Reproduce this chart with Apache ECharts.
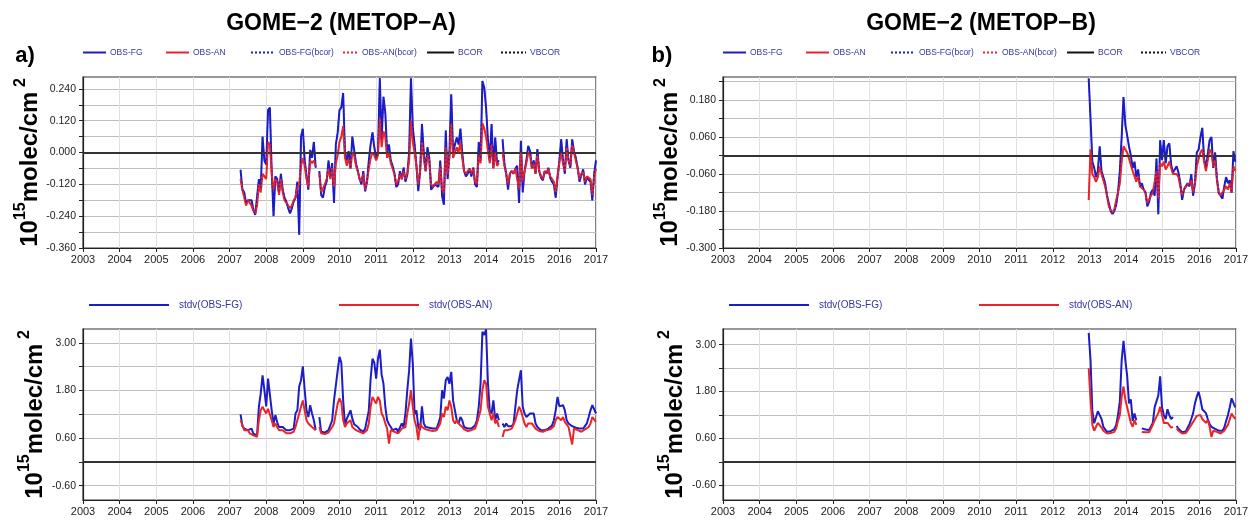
<!DOCTYPE html>
<html>
<head>
<meta charset="utf-8">
<title>GOME-2 METOP-A / METOP-B</title>
<script src="https://cdn.jsdelivr.net/npm/echarts@6/dist/echarts.min.js"></script>
<style>
    html, body { margin: 0; padding: 0; background: #fff; }
    #chart { width: 1256px; height: 524px; }
</style>
</head>
<body>
<div id="chart"></div>
<script>
// sampling of the time series (decimal years)
var startA = 2007.30;
var startB = 2012.98;
var step = 0.05;

var years = [2003, 2004, 2005, 2006, 2007, 2008, 2009, 2010, 2011, 2012, 2013, 2014, 2015, 2016, 2017];

// tick positions / labelled ticks
var biasTicksA = [-0.36, -0.30, -0.24, -0.18, -0.12, -0.06, 0, 0.06, 0.12, 0.18, 0.24];
var biasLabelsA = [-0.36, -0.24, -0.12, 0, 0.12, 0.24];
var biasTicksB = [-0.30, -0.24, -0.18, -0.12, -0.06, 0, 0.06, 0.12, 0.18, 0.24];
var biasLabelsB = [-0.30, -0.18, -0.06, 0.06, 0.18];
var stdTicks = [-0.6, 0, 0.6, 1.2, 1.8, 2.4, 3.0];
var stdLabels = [-0.6, 0.6, 1.8, 3.0];

// METOP-A mean departures
var fgBiasA = [
    -0.065, -0.14, -0.15, -0.19, -0.18, -0.185, -0.18, -0.215, -0.235, -0.23, -0.10, -0.14, 0.06, -0.03,
    -0.045, 0.16, 0.17, -0.07, -0.24, -0.09, -0.10, -0.15, -0.08, -0.14, -0.17, -0.185, -0.21, -0.23, -0.21, -0.185, -0.17, -0.11, -0.31, 0.06,
    0.09, -0.03, -0.085, -0.14, 0.01, -0.02, 0.04, -0.057, null, -0.07, -0.16, -0.17, -0.13, -0.11, -0.03, -0.095, -0.04, -0.19, 0.03, 0.075,
    0.16, 0.17, 0.225, 0.0, -0.03, 0.005, -0.06, 0.06, 0.01, -0.04, -0.07, -0.10, -0.12, -0.07, -0.146, -0.11, -0.03, 0.03, 0.076, 0.02,
    -0.02, 0.0, 0.28, 0.05, 0.21, 0.15, 0.0, 0.03, -0.03, -0.05, -0.08, -0.13, -0.12, -0.07, -0.10, -0.057, -0.11, -0.085, 0.0, 0.28,
    0.095, 0.03, -0.05, -0.146, -0.07, 0.108, 0.0, -0.07, 0.02, -0.02, -0.14, -0.135, -0.12, -0.115, -0.13, -0.03, -0.165, -0.197, 0.083, -0.1,
    0.0, 0.22, 0.0, 0.03, 0.057, 0.03, 0.09, 0.0, -0.07, -0.09, -0.08, -0.06, -0.09, -0.057, -0.12, -0.13, 0.04, -0.03, 0.27, 0.245,
    0.17, 0.05, -0.03, 0.108, -0.057, 0.057, -0.04, -0.03, null, 0.05, -0.04, -0.08, -0.14, -0.08, -0.07, -0.08, -0.06, -0.05, -0.19, 0.044,
    -0.15, -0.07, -0.03, 0.025, 0.006, -0.057, -0.03, -0.08, 0.013, -0.07, -0.095, -0.105, -0.07, -0.08, -0.057, -0.095, -0.11, -0.12, -0.17, -0.095,
    -0.03, 0.05, -0.03, -0.08, 0.05, -0.03, -0.057, 0.05, 0.005, -0.02, -0.057, -0.11, -0.085, -0.063, -0.12, -0.095, -0.088, -0.11, -0.18, -0.08,
    -0.03
];
var anBiasA = [
    -0.10, -0.14, -0.17, -0.20, -0.18, -0.19, -0.20, -0.22, -0.23, -0.20, -0.12, -0.15, -0.08, -0.09,
    -0.10, 0.04, 0.03, -0.08, -0.14, -0.10, -0.11, -0.16, -0.10, -0.15, -0.18, -0.19, -0.20, -0.21, -0.20, -0.18, -0.17, -0.13, -0.12, -0.05,
    -0.02, -0.05, -0.10, -0.13, -0.03, -0.04, -0.03, -0.05, null, -0.08, -0.15, -0.15, -0.12, -0.10, -0.06, -0.10, -0.06, -0.13, -0.04, -0.01,
    0.04, 0.06, 0.10, -0.02, -0.05, -0.02, -0.06, 0.0, -0.01, -0.05, -0.07, -0.10, -0.11, -0.08, -0.14, -0.11, -0.06, -0.02, 0.0, -0.01,
    -0.03, -0.01, 0.13, 0.02, 0.08, 0.06, -0.02, 0.0, -0.04, -0.06, -0.08, -0.12, -0.11, -0.08, -0.10, -0.07, -0.10, -0.08, -0.03, 0.12,
    0.04, 0.0, -0.05, -0.12, -0.07, 0.04, -0.02, -0.07, -0.01, -0.03, -0.12, -0.13, -0.12, -0.11, -0.12, -0.05, -0.14, -0.15, 0.02, -0.08,
    -0.02, 0.11, -0.02, 0.0, 0.02, 0.0, 0.04, -0.02, -0.07, -0.08, -0.08, -0.06, -0.08, -0.06, -0.11, -0.12, -0.01, -0.04, 0.11, 0.09,
    0.06, 0.01, -0.04, 0.03, -0.06, 0.0, -0.05, -0.04, null, 0.0, -0.05, -0.08, -0.12, -0.08, -0.07, -0.08, -0.06, -0.06, -0.14, 0.0,
    -0.11, -0.07, -0.04, 0.0, -0.01, -0.06, -0.04, -0.08, -0.01, -0.07, -0.09, -0.10, -0.07, -0.08, -0.06, -0.09, -0.10, -0.11, -0.15, -0.09,
    -0.04, 0.0, -0.04, -0.07, 0.02, -0.03, -0.05, 0.03, 0.0, -0.03, -0.06, -0.10, -0.08, -0.07, -0.11, -0.09, -0.09, -0.10, -0.16, -0.09,
    -0.06
];

// METOP-A standard deviations
var fgStdA = [
    1.2, 0.9, 0.84, 0.88, 0.8, 0.76, 0.84, 0.71, 0.76, 0.67, 1.39, 1.72, 2.18, 1.81,
    1.4, 2.1, 2.14, 1.3, 0.97, 1.18, 1.0, 0.88, 0.84, 0.88, 0.84, 0.8, 0.76, 0.8, 0.8, 0.84, 1.22, 1.3, 1.9, 2.06,
    2.41, 1.81, 1.3, 1.13, 1.43, 1.22, 1.05, 0.8, null, 1.13, 0.76, 0.71, 0.74, 0.76, 0.8, 0.8, 1.05, 1.55, 1.5, 2.3,
    2.65, 2.5, 1.55, 0.92, 1.09, 1.05, 1.3, 1.09, 0.95, 0.9, 0.88, 0.82, 0.8, 0.76, 0.84, 0.88, 1.3, 2.1, 2.6, 2.5,
    2.1, 2.6, 2.83, 2.2, 1.97, 1.39, 1.05, 0.95, 0.88, 0.8, 0.82, 0.84, 0.76, 0.8, 0.97, 0.88, 1.22, 1.81, 2.3, 3.11,
    2.48, 1.2, 1.3, 0.88, 0.8, 1.4, 0.97, 0.88, 0.88, 0.86, 0.84, 0.84, 0.84, 0.84, 0.97, 1.13, 1.81, 1.6, 2.06, 2.14,
    1.97, 2.27, 1.55, 1.3, 1.05, 0.97, 1.13, 1.05, 0.88, 0.86, 0.84, 0.84, 0.84, 0.88, 0.92, 1.05, 1.39, 1.97, 3.28, 3.2,
    3.34, 2.0, 1.3, 1.22, 1.55, 1.05, 1.22, 1.05, null, 0.97, 0.88, 0.97, 0.9, 0.88, 0.9, 0.97, 1.39, 1.81, 2.06, 2.31,
    1.39, 1.22, 1.13, 1.13, 1.22, 1.18, 1.22, 0.97, 0.88, 0.84, 0.8, 0.8, 0.8, 0.84, 0.84, 0.88, 0.92, 1.05, 1.3, 1.64,
    1.4, 1.39, 1.43, 1.3, 1.05, 0.97, 0.92, 0.9, 0.88, 0.86, 0.84, 0.84, 0.8, 0.84, 0.88, 0.97, 1.13, 1.3, 1.43, 1.39,
    1.22
];
var anStdA = [
    1.05, 0.93, 0.8, 0.76, 0.8, 0.72, 0.76, 0.67, 0.72, 0.63, 1.05, 1.3, 1.39, 1.3,
    1.22, 1.34, 1.39, 1.05, 0.88, 0.97, 0.88, 0.8, 0.76, 0.8, 0.76, 0.72, 0.7, 0.72, 0.72, 0.76, 0.88, 0.88, 1.22, 1.39,
    1.55, 1.3, 1.05, 0.97, 0.97, 0.88, 0.84, 0.8, null, 0.88, 0.72, 0.68, 0.7, 0.72, 0.74, 0.76, 0.88, 0.97, 1.22, 1.47,
    1.6, 1.5, 1.05, 0.88, 0.97, 0.97, 1.05, 0.88, 0.84, 0.8, 0.78, 0.76, 0.72, 0.72, 0.76, 0.8, 0.97, 1.39, 1.64, 1.55,
    1.47, 1.64, 1.55, 1.22, 1.13, 0.97, 0.84, 0.46, 0.8, 0.76, 0.76, 0.78, 0.72, 0.76, 0.84, 0.8, 0.88, 1.22, 1.47, 1.81,
    1.39, 1.05, 0.88, 0.55, 0.97, 0.88, 0.84, 0.82, 0.8, 0.8, 0.78, 0.78, 0.8, 0.8, 0.84, 0.97, 1.22, 1.13, 1.39, 1.3,
    1.55, 1.39, 1.05, 0.97, 1.05, 0.97, 0.92, 0.88, 0.82, 0.8, 0.78, 0.8, 0.8, 0.82, 0.84, 0.97, 1.13, 1.3, 1.81, 2.06,
    1.97, 1.39, 1.22, 1.05, 1.22, 0.97, 1.05, 0.88, null, 0.63, 0.8, 0.84, 0.8, 0.82, 0.84, 0.88, 1.05, 1.22, 1.39, 1.3,
    1.13, 0.97, 0.88, 0.97, 0.95, 0.97, 0.97, 0.84, 0.8, 0.78, 0.76, 0.76, 0.76, 0.8, 0.8, 0.82, 0.84, 0.9, 1.05, 1.13,
    1.18, 1.05, 1.13, 1.01, 0.97, 0.88, 0.88, 0.44, 0.84, 0.82, 0.8, 0.8, 0.76, 0.8, 0.82, 0.84, 0.88, 0.97, 1.13, 1.18,
    1.01
];

// METOP-B mean departures
var fgBiasB = [
    0.25, 0.12, -0.02, -0.04, -0.07, -0.05, 0.03, -0.05, -0.045, -0.09,
    -0.13, -0.155, -0.18, -0.19, -0.18, -0.16, -0.12, -0.05, 0.06, 0.19,
    0.1, 0.1, 0.03, 0.0, -0.04, -0.02, -0.07, -0.045, -0.1, -0.09,
    -0.11, -0.12, -0.165, -0.15, -0.12, -0.11, -0.13, -0.01, -0.19, 0.05,
    -0.015, 0.05, -0.025, 0.03, 0.04, -0.03, -0.055, -0.045, -0.035, -0.055,
    -0.09, -0.144, -0.11, -0.1, -0.09, -0.1, -0.06, -0.13, -0.09, 0.01,
    0.02, 0.06, 0.09, -0.01, -0.04, -0.04, 0.05, 0.06, -0.04, 0.01,
    -0.075, -0.122, -0.13, -0.14, -0.1, -0.07, -0.09, -0.08, -0.12, 0.014,
    -0.02
];
var anBiasB = [
    -0.144, 0.02, -0.06, -0.07, -0.085, -0.07, -0.035, -0.06, -0.08, -0.1,
    -0.13, -0.165, -0.177, -0.185, -0.175, -0.145, -0.12, -0.09, -0.02, 0.03,
    0.02, 0.01, -0.01, -0.015, -0.05, -0.045, -0.085, -0.065, -0.1, -0.1,
    -0.11, -0.12, -0.155, -0.155, -0.13, -0.12, -0.125, -0.05, -0.14, -0.025,
    -0.035, -0.02, -0.045, -0.035, -0.02, -0.04, -0.06, -0.065, -0.06, -0.07,
    -0.1, -0.13, -0.11, -0.1, -0.1, -0.09, -0.08, -0.12, -0.09, -0.035,
    -0.01, 0.01, 0.02, -0.02, -0.05, -0.045, 0.02, 0.01, -0.035, -0.015,
    -0.08, -0.12, -0.13, -0.13, -0.11, -0.1, -0.11, -0.09, -0.12, -0.035,
    -0.05
];

// METOP-B standard deviations
var fgStdB = [
    3.3, 2.6, 1.3, 0.99, 1.0, 1.3, 1.2, 1.1, 0.9, 0.9,
    0.77, 0.8, 0.79, 0.8, 0.84, 0.95, 1.2, 1.55, 2.6, 3.1,
    2.6, 2.2, 1.5, 1.6, 1.05, 1.24, 1.07, null, null, 0.86,
    0.85, 0.83, 0.82, 0.82, 0.82, 1.0, 1.4, 1.55, 1.7, 2.19,
    1.4, 1.2, 1.1, 1.35, 1.2, 1.1, 1.15, null, 0.92, 0.85,
    0.8, 0.76, 0.75, 0.78, 0.88, 0.97, 1.1, 1.25, 1.5, 1.67,
    1.8, 1.6, 1.35, 1.3, 1.25, 1.1, 0.97, 0.9, 0.88, 0.85,
    0.82, 0.8, 0.77, 0.8, 0.88, 1.05, 1.2, 1.4, 1.63, 1.6,
    1.4
];
var anStdB = [
    2.4, 1.6, 0.95, 0.8, 0.82, 1.0, 0.97, 0.88, 0.8, 0.78,
    0.73, 0.74, 0.74, 0.76, 0.77, 0.86, 1.05, 1.2, 1.67, 1.93,
    1.6, 1.4, 1.2, 1.0, 0.9, 1.07, 0.95, null, null, 0.77,
    0.77, 0.76, 0.76, 0.76, 0.77, 0.95, 1.07, 1.16, 1.25, 1.41,
    1.2, 1.0, 0.95, 1.0, 0.95, 0.88, 0.9, null, 0.86, 0.8,
    0.76, 0.73, 0.72, 0.74, 0.8, 0.88, 0.95, 0.97, 1.1, 1.18,
    1.22, 1.2, 1.1, 1.07, 1.0, 1.07, 0.9, 0.64, 0.8, 0.77,
    0.77, 0.75, 0.73, 0.75, 0.8, 0.88, 0.95, 1.0, 1.24, 1.16,
    1.1
];

var BLUE = '#1c1cc8';
var RED = '#e8262a';
var FONT = '"Liberation Sans", Arial, Helvetica, sans-serif';

// turn a value list into [year, value] pairs, null -> gap
function pairs(start, values) {
    return values.map(function (v, i) {
        var x = Math.round((start + i * step) * 100) / 100;
        return [x, v === null ? '-' : v];
    });
}

var yName = '{b|10}{s|15}{b|molec/cm}{s| 2}';

function xAxis(gridIndex) {
    return {
        type: 'value',
        gridIndex: gridIndex,
        min: years[0],
        max: years[years.length - 1],
        interval: 1,
        axisLine: { onZero: false, lineStyle: { color: '#222', width: 1.2 } },
        axisTick: { length: 4, lineStyle: { color: '#222' } },
        axisLabel: { color: '#222', fontSize: 11, fontFamily: FONT, margin: 6,
            formatter: function (v) { return String(v); } },
        splitLine: { show: true, lineStyle: { color: '#e0e0e0', width: 1 } }
    };
}

function yAxis(gridIndex, min, max, ticks, labels, digits) {
    return {
        type: 'value',
        gridIndex: gridIndex,
        min: min,
        max: max,
        name: yName,
        nameLocation: 'middle',
        nameRotate: 90,
        nameGap: 36,
        nameTextStyle: {
            rich: {
                b: { fontSize: 24, fontWeight: 'bold', fontFamily: FONT, color: '#000', lineHeight: 30, verticalAlign: 'bottom' },
                s: { fontSize: 16, fontWeight: 'bold', fontFamily: FONT, color: '#000', lineHeight: 17, verticalAlign: 'top' }
            }
        },
        axisLine: { show: true, onZero: false, lineStyle: { color: '#222', width: 1.2 } },
        axisTick: { show: true, length: 4, customValues: ticks, lineStyle: { color: '#222' } },
        axisLabel: { color: '#222', fontSize: 10.5, fontFamily: FONT, margin: 7, customValues: labels,
            formatter: function (v) { return v.toFixed(digits); } },
        splitLine: { show: true, lineStyle: { color: '#bdbdbd', width: 1 } }
    };
}

function line(name, axis, data, color, width, dotted, z) {
    return {
        name: name,
        type: 'line',
        xAxisIndex: axis,
        yAxisIndex: axis,
        data: data,
        symbol: 'none',
        connectNulls: false,
        color: color,
        lineStyle: { color: color, width: width, type: dotted ? [2, 2] : 'solid' },
        z: z,
        silent: true,
        animation: false
    };
}

function zeroMark() {
    return {
        silent: true,
        symbol: 'none',
        label: { show: false },
        lineStyle: { color: '#333', width: 2.2, type: 'solid' },
        data: [{ yAxis: 0 }],
        animation: false
    };
}

function biasSeries(axis, fg, an, start) {
    var bcor = line('BCOR', axis, [], '#111', 2, false, 6);
    bcor.markLine = zeroMark();
    return [
        line('OBS-FG', axis, pairs(start, fg), BLUE, 2, false, 2),
        line('OBS-AN', axis, pairs(start, an), RED, 2, false, 3),
        line('OBS-FG(bcor)', axis, pairs(start, fg), BLUE, 1.2, true, 4),
        line('OBS-AN(bcor)', axis, pairs(start, an), RED, 1.2, true, 5),
        bcor,
        line('VBCOR', axis, [], '#111', 2, true, 6)
    ];
}

function stdSeries(axis, fg, an, start) {
    var s = [
        line('stdv(OBS-FG)', axis, pairs(start, fg), BLUE, 2, false, 2),
        line('stdv(OBS-AN)', axis, pairs(start, an), RED, 2, false, 3)
    ];
    s[1].markLine = zeroMark();
    return s;
}

// one legend per item so each entry sits where the original has it
var topItems = [
    { name: 'OBS-FG', left: 82, w: 23 },
    { name: 'OBS-AN', left: 165, w: 23 },
    { name: 'OBS-FG(bcor)', left: 250, w: 24 },
    { name: 'OBS-AN(bcor)', left: 342, w: 15 },
    { name: 'BCOR', left: 426, w: 27 },
    { name: 'VBCOR', left: 500, w: 25 }
];
var legendText = { color: '#3535a0', fontFamily: FONT };
var legends = [];
[0, 640].forEach(function (dx) {
    topItems.forEach(function (it) {
        legends.push({
            data: [it.name], left: it.left + dx, top: 48, padding: 0,
            itemWidth: it.w, itemHeight: 8, itemGap: 0, selectedMode: false,
            itemStyle: { opacity: 0 },
            textStyle: Object.assign({ fontSize: 8.5, padding: [0, 0, 0, -1] }, legendText)
        });
    });
    ['stdv(OBS-FG)', 'stdv(OBS-AN)'].forEach(function (name, k) {
        legends.push({
            data: [name], left: 88 + k * 250 + dx, top: 300, padding: 0,
            itemWidth: 80, itemHeight: 8, selectedMode: false,
            itemStyle: { opacity: 0 },
            textStyle: Object.assign({ fontSize: 10, padding: [0, 0, 0, 5] }, legendText)
        });
    });
});

var gridBox = { show: true, borderColor: '#333', borderWidth: 1.2, containLabel: false };

var option = {
    backgroundColor: '#fff',
    animation: false,
    textStyle: { fontFamily: FONT },
    graphic: [
        { type: 'text', x: 341, y: 24, style: { text: 'GOME\u22122 (METOP\u2212A)', font: 'bold 23px ' + FONT, fill: '#000', align: 'center', verticalAlign: 'middle' } },
        { type: 'text', x: 981, y: 24, style: { text: 'GOME\u22122 (METOP\u2212B)', font: 'bold 23px ' + FONT, fill: '#000', align: 'center', verticalAlign: 'middle' } },
        { type: 'text', x: 25, y: 56, style: { text: 'a)', font: 'bold 22px ' + FONT, fill: '#000', align: 'center', verticalAlign: 'middle' } },
        { type: 'text', x: 662, y: 56, style: { text: 'b)', font: 'bold 22px ' + FONT, fill: '#000', align: 'center', verticalAlign: 'middle' } }
    ],
    legend: legends,
    grid: [
        Object.assign({ left: 83, top: 77, width: 513, height: 171 }, gridBox),
        Object.assign({ left: 83, top: 329, width: 513, height: 171 }, gridBox),
        Object.assign({ left: 723, top: 77, width: 513, height: 171 }, gridBox),
        Object.assign({ left: 723, top: 329, width: 513, height: 171 }, gridBox)
    ],
    xAxis: [xAxis(0), xAxis(1), xAxis(2), xAxis(3)],
    yAxis: [
        yAxis(0, -0.36, 0.285, biasTicksA, biasLabelsA, 3),
        yAxis(1, -0.96, 3.35, stdTicks, stdLabels, 2),
        yAxis(2, -0.30, 0.255, biasTicksB, biasLabelsB, 3),
        yAxis(3, -0.97, 3.4, stdTicks, stdLabels, 2)
    ],
    series: [].concat(
        biasSeries(0, fgBiasA, anBiasA, startA),
        stdSeries(1, fgStdA, anStdA, startA),
        biasSeries(2, fgBiasB, anBiasB, startB),
        stdSeries(3, fgStdB, anStdB, startB)
    )
};

var chart = echarts.init(document.getElementById('chart'), null, { renderer: 'canvas' });
chart.setOption(option);
</script>
</body>
</html>
